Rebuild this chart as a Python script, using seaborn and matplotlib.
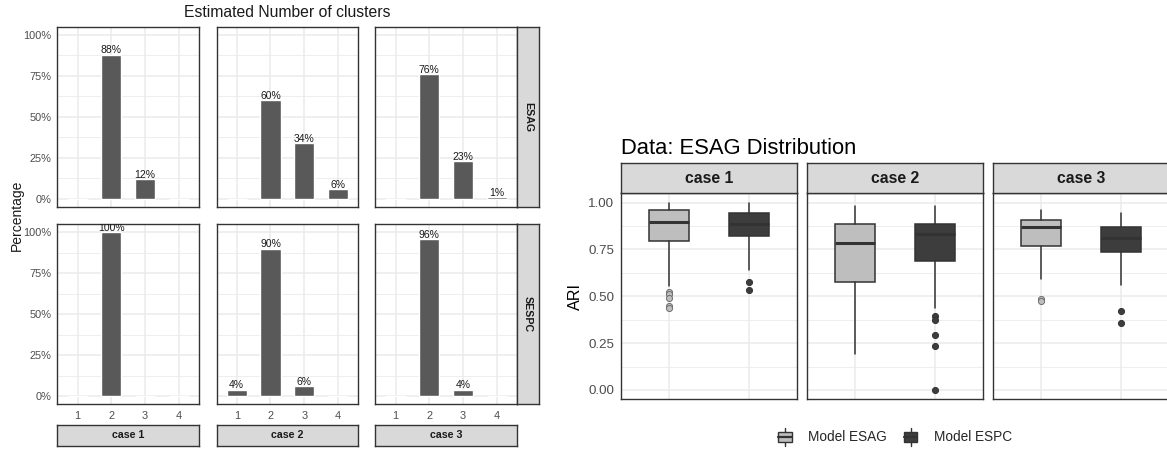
import matplotlib
matplotlib.use("Agg")
import matplotlib.pyplot as plt
import numpy as np
import pandas as pd
import seaborn as sns
from matplotlib.patches import Patch, Rectangle
from matplotlib.lines import Line2D
from matplotlib.legend_handler import HandlerBase
from matplotlib.ticker import FixedLocator

sns.set_style("white")
plt.rcParams["font.family"] = ["Liberation Sans", "DejaVu Sans"]

# ---------------- data: estimated number of clusters (% of runs) ----------------
cases = ["case 1", "case 2", "case 3"]
models = ["ESAG", "SESPC"]
n_clusters = [1, 2, 3, 4]
esag_pct = [[0, 88, 12, 0], [0, 60, 34, 6], [0, 76, 23, 1]]
sespc_pct = [[0, 100, 0, 0], [4, 90, 6, 0], [0, 96, 4, 0]]
pct_ticks = [0, 25, 50, 75, 100]
pct_tick_labels = ["0%", "25%", "50%", "75%", "100%"]

# ---------------- data: ARI box summaries, one value per case ----------------
box_models = ["Model ESAG", "Model ESPC"]
esag_whislo = [0.554, 0.193, 0.595]
esag_q1 = [0.793, 0.577, 0.771]
esag_med = [0.896, 0.786, 0.868]
esag_q3 = [0.962, 0.886, 0.907]
esag_whishi = [1.000, 0.982, 0.960]
esag_out = [[0.525, 0.510, 0.493, 0.447, 0.437], [], [0.487, 0.473]]
espc_whislo = [0.639, 0.4375, 0.562]
espc_q1 = [0.820, 0.689, 0.737]
espc_med = [0.8875, 0.832, 0.812]
espc_q3 = [0.943, 0.886, 0.869]
espc_whishi = [1.000, 0.982, 0.943]
espc_out = [[0.579, 0.532], [0.396, 0.375, 0.291, 0.232, 0.0], [0.420, 0.359]]
ari_ticks = [0.0, 0.25, 0.5, 0.75, 1.0]

# ---------------- figure helpers ----------------
W, H = 1167, 453
fig = plt.figure(figsize=(W / 100, H / 100), dpi=100)

BORDER = "#333333"
GRID = "#EBEBEB"
TICKTXT = "#4D4D4D"
STRIP = "#D9D9D9"


def add_box(x0, y0, x1, y1):
    return fig.add_axes([x0 / W, 1 - y1 / H, (x1 - x0) / W, (y1 - y0) / H])


def style_panel(ax):
    ax.set_facecolor("white")
    for s in ax.spines.values():
        s.set_visible(True)
        s.set_color(BORDER)
        s.set_linewidth(1.0)
    ax.set_axisbelow(True)
    ax.grid(True, which="major", color=GRID, linewidth=1.1)
    ax.grid(True, which="minor", axis="y", color=GRID, linewidth=0.6)
    ax.tick_params(which="major", color=BORDER, length=2.75, width=0.8,
                   labelcolor=TICKTXT)
    ax.tick_params(which="minor", length=0)
    ax.set_xlabel("")
    ax.set_ylabel("")


def strip(x0, y0, x1, y1, text, size, rotation=0):
    sa = add_box(x0, y0, x1, y1)
    sa.set_facecolor(STRIP)
    sa.set_xticks([])
    sa.set_yticks([])
    for s in sa.spines.values():
        s.set_visible(True)
        s.set_color(BORDER)
        s.set_linewidth(1.0)
    sa.text(0.5, 0.5, text, transform=sa.transAxes, ha="center", va="center",
            rotation=rotation, fontsize=size, fontweight="bold", color="#1A1A1A")
    return sa


# ---------------- left: faceted bar chart ----------------
records = []
for model, table in zip(models, [esag_pct, sespc_pct]):
    for case, vals in zip(cases, table):
        for k, v in zip(n_clusters, vals):
            records.append((model, case, k, v))
bars = pd.DataFrame(records, columns=["model", "case", "k", "pct"])

col_x = [(57.3, 199.0), (216.5, 358.2), (375.3, 517.0)]
row_y = [(26.7, 207.0), (224.3, 404.3)]

for r, model in enumerate(models):
    for c, case in enumerate(cases):
        ax = add_box(col_x[c][0], row_y[r][0], col_x[c][1], row_y[r][1])
        sub = bars[(bars.model == model) & (bars.case == case)]
        sns.barplot(data=sub, x="k", y="pct", order=n_clusters, color="#595959",
                    saturation=1, width=0.6, errorbar=None, ax=ax)
        style_panel(ax)
        ax.set_xlim(-0.6, 3.6)
        ax.set_ylim(-5, 105)
        ax.set_yticks(pct_ticks)
        ax.yaxis.set_minor_locator(FixedLocator([12.5, 37.5, 62.5, 87.5]))
        ax.set_xticks(range(len(n_clusters)))
        ax.set_xticklabels([str(k) for k in n_clusters])
        ax.tick_params(axis="x", labelsize=7.9, pad=1.8)
        ax.tick_params(axis="y", labelsize=7.9, pad=1.4)
        if c == 0:
            ax.set_yticklabels(pct_tick_labels)
        else:
            ax.tick_params(axis="y", left=False, labelleft=False)
        if r == 0:
            ax.tick_params(axis="x", bottom=False, labelbottom=False)
        for patch, val in zip(ax.patches, sub.pct):
            if val > 0:
                ax.annotate(f"{val:g}%",
                            xy=(patch.get_x() + patch.get_width() / 2, val),
                            xytext=(0, 1.0), textcoords="offset points",
                            ha="center", va="baseline", fontsize=7.5,
                            color="#1A1A1A", annotation_clip=False, clip_on=True)
        if c == 2:
            strip(517.0, row_y[r][0], 539.0, row_y[r][1], model, 7.7, rotation=-90)
        if r == 1:
            strip(col_x[c][0], 425.0, col_x[c][1], 445.7, case, 7.7)

fig.text(287 / W, 1 - 16.8 / H, "Estimated Number of clusters", ha="center",
         va="baseline", fontsize=11.3, color="#1A1A1A")
fig.text(16.5 / W, 1 - 215.5 / H, "Percentage", ha="center", va="center",
         rotation=90, fontsize=10.0, color="#1A1A1A")

# ---------------- right: faceted box plots of ARI ----------------
fills = ["#BEBEBE", "#3D3D3D"]
flier_faces = ["#BEBEBE", "#3D3D3D"]
flier_edges = ["#6E6E6E", "#333333"]
panel_x = [(620.7, 797.0), (806.5, 982.8), (992.8, 1169.1)]
panel_y = (193.3, 399.3)

for c, case in enumerate(cases):
    ax = add_box(panel_x[c][0], panel_y[0], panel_x[c][1], panel_y[1])
    stats = [
        dict(whislo=esag_whislo[c], q1=esag_q1[c], med=esag_med[c], q3=esag_q3[c],
             whishi=esag_whishi[c], fliers=esag_out[c], label=box_models[0]),
        dict(whislo=espc_whislo[c], q1=espc_q1[c], med=espc_med[c], q3=espc_q3[c],
             whishi=espc_whishi[c], fliers=espc_out[c], label=box_models[1]),
    ]
    parts = ax.bxp(stats, positions=[1, 2], widths=0.5, patch_artist=True,
                   showcaps=False,
                   boxprops=dict(edgecolor=BORDER, linewidth=1.1),
                   whiskerprops=dict(color=BORDER, linewidth=1.1),
                   medianprops=dict(color=BORDER, linewidth=2.2, solid_capstyle="butt"),
                   flierprops=dict(marker="o", markersize=4.4, markeredgewidth=0.7))
    for i, b in enumerate(parts["boxes"]):
        b.set_facecolor(fills[i])
    for i, f in enumerate(parts["fliers"]):
        f.set_markerfacecolor(flier_faces[i])
        f.set_markeredgecolor(flier_edges[i])
    style_panel(ax)
    ax.set_xlim(0.4, 2.6)
    ax.set_ylim(-0.05, 1.05)
    ax.set_xticks([1, 2])
    ax.set_yticks(ari_ticks)
    ax.yaxis.set_minor_locator(FixedLocator([0.125, 0.375, 0.625, 0.875]))
    ax.tick_params(axis="x", bottom=False, labelbottom=False)
    if c == 0:
        ax.set_yticklabels([f"{t:.2f}" for t in ari_ticks])
        ax.tick_params(axis="y", labelsize=9.6, pad=2.0)
    else:
        ax.tick_params(axis="y", left=False, labelleft=False)
    strip(panel_x[c][0], 163.3, panel_x[c][1], panel_y[0], case, 11.3)

fig.text(621 / W, 1 - 153.5 / H, "Data: ESAG Distribution", ha="left",
         va="baseline", fontsize=15.8, color="black")
fig.text(575 / W, 1 - 296 / H, "ARI", ha="center", va="center", rotation=90,
         fontsize=11.6, color="black")


# legend keys drawn as miniature box plots
class BoxKey(HandlerBase):
    def create_artists(self, legend, orig_handle, xdescent, ydescent, width,
                       height, fontsize, trans):
        x0, y0 = -xdescent, -ydescent
        cx = x0 + width / 2
        bh = height * 0.58
        by = y0 + (height - bh) / 2
        rect = Rectangle((x0, by), width, bh, facecolor=orig_handle.get_facecolor(),
                         edgecolor=BORDER, linewidth=1.0, transform=trans)
        med = Line2D([x0, x0 + width], [y0 + height / 2] * 2, color=BORDER,
                     linewidth=1.6, transform=trans)
        top = Line2D([cx, cx], [by + bh, y0 + height], color=BORDER,
                     linewidth=1.0, transform=trans)
        bot = Line2D([cx, cx], [y0, by], color=BORDER, linewidth=1.0, transform=trans)
        return [top, bot, rect, med]


handles = [Patch(facecolor=fills[0]), Patch(facecolor=fills[1])]
fig.legend(handles, box_models, loc="center", bbox_to_anchor=(895 / W, 1 - 437 / H),
           ncol=2, frameon=False, handler_map={Patch: BoxKey()}, fontsize=9.8,
           handlelength=1.0, handleheight=1.6, handletextpad=1.2, columnspacing=1.25,
           borderpad=0, borderaxespad=0)

fig.savefig("out.png", dpi=100, facecolor="white")
